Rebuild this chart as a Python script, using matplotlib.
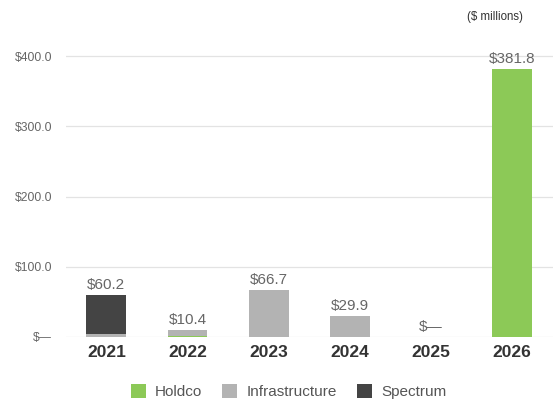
import numpy as np
import matplotlib
matplotlib.use("Agg")
import matplotlib.pyplot as plt

years = ["2021", "2022", "2023", "2024", "2025", "2026"]
holdco = [0.0, 0.6, 0.0, 0.0, 0.0, 381.8]
infrastructure = [3.6, 9.8, 66.7, 29.9, 0.0, 0.0]
spectrum = [56.6, 0.0, 0.0, 0.0, 0.0, 0.0]
totals = [60.2, 10.4, 66.7, 29.9, 0.0, 381.8]

plt.rcParams['font.family'] = ['Liberation Sans', 'DejaVu Sans']

fig = plt.figure(figsize=(5.53, 4.03), dpi=100)
ax = fig.add_axes([0.119, 0.164, 0.895, 0.714])

x = np.arange(len(years))
w = 0.49
c_hold, c_infra, c_spec = "#8cc957", "#b3b3b3", "#444444"

ax.bar(x, holdco, w, color=c_hold, label="Holdco")
ax.bar(x, infrastructure, w, bottom=holdco, color=c_infra, label="Infrastructure")
bottom2 = np.array(holdco) + np.array(infrastructure)
ax.bar(x, spectrum, w, bottom=bottom2, color=c_spec, label="Spectrum")

for xi, t in zip(x, totals):
    txt = "$—" if t == 0 else f"${t:.1f}"
    ax.text(xi, t + 4, txt, ha="center", va="bottom", fontsize=11, color="#666666")

ax.set_xlim(-0.5, 5.6)
ax.set_ylim(0, 410)
ax.set_yticks([0, 100, 200, 300, 400])
ax.set_yticklabels(["$—", "$100.0", "$200.0", "$300.0", "$400.0"], fontsize=8.7, color="#666666")
ax.set_xticks(x)
ax.set_xticklabels(years, fontsize=12.5, fontweight="bold", color="#333333")
ax.tick_params(axis="y", length=0, pad=10)
ax.tick_params(axis="x", length=0, pad=6)
ax.grid(axis="y", color="#e3e3e3", linewidth=0.9)
ax.set_axisbelow(True)
for s in ax.spines.values():
    s.set_visible(False)

fig.text(0.895, 0.957, "($ millions)", ha="center", va="center", fontsize=8.3, color="#333333")

ax.legend(loc="center", bbox_to_anchor=(0.5 - 0.05, -0.19), ncol=3, frameon=False,
          fontsize=11, labelcolor="#555555", handlelength=1.0, handleheight=1.0,
          columnspacing=1.3, handletextpad=0.6)

fig.savefig("out.png", dpi=100)
